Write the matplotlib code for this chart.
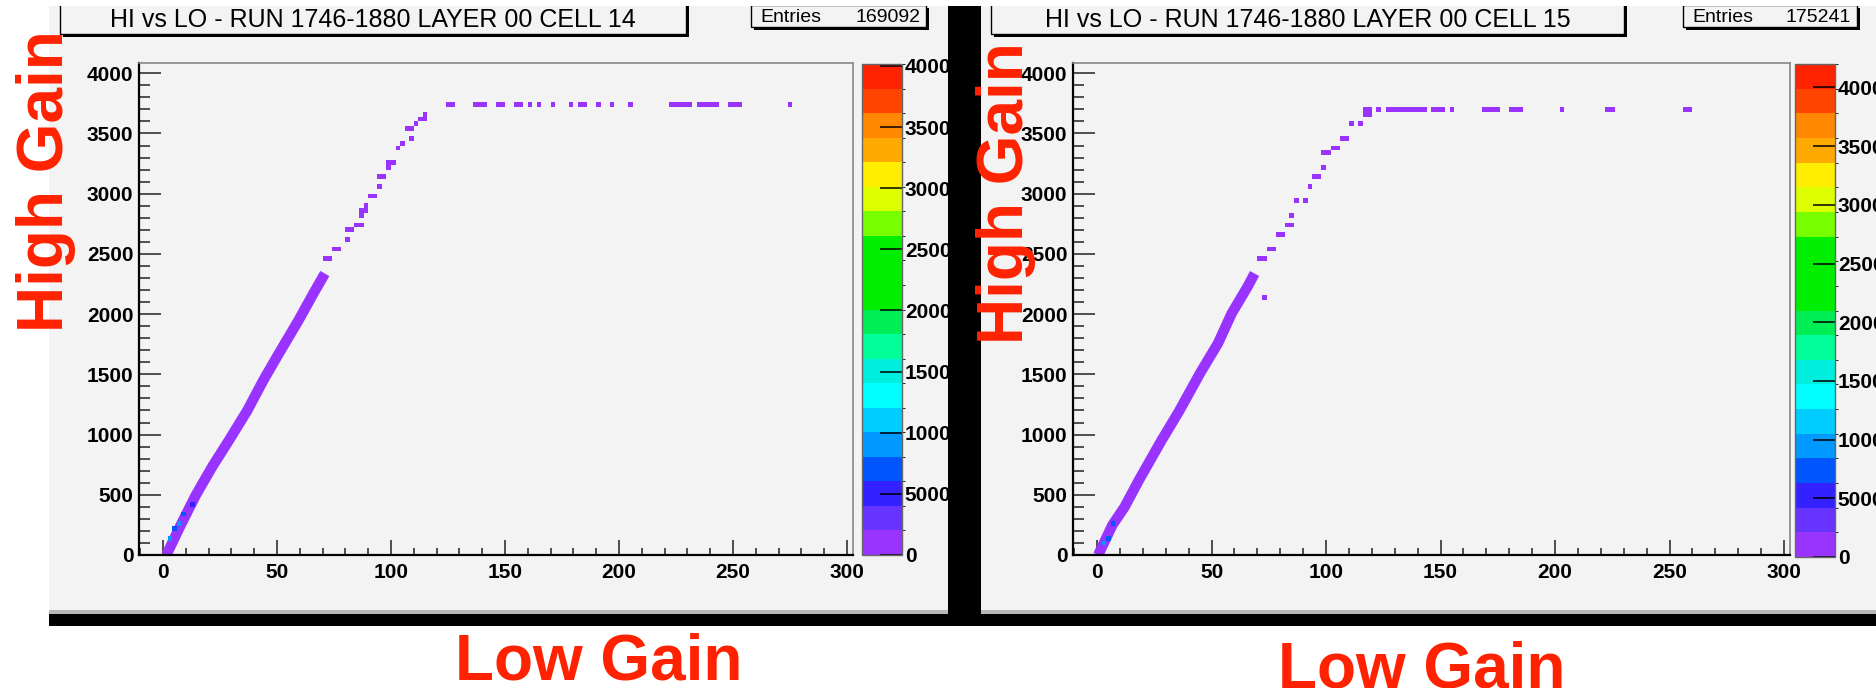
import matplotlib
matplotlib.use('Agg')
import matplotlib.pyplot as plt
import numpy as np
from matplotlib.colors import ListedColormap, BoundaryNorm
from matplotlib.patches import Rectangle
from matplotlib.ticker import MultipleLocator
import matplotlib.cm as cm

plt.rcParams['font.family'] = ['Liberation Sans', 'DejaVu Sans']
plt.rcParams['font.weight'] = 'bold'

W, H = 1876, 688

# ---------------- data ----------------
titles = ['HI vs LO - RUN 1746-1880 LAYER 00 CELL 14',
          'HI vs LO - RUN 1746-1880 LAYER 00 CELL 15']
entries = [169092, 175241]
zmax = [40160, 42000]
z_ticks = [0, 5000, 10000, 15000, 20000, 25000, 30000, 35000, 40000]

# cell 14 : dense part of the band (low gain, high gain)
band14_lo = [1.5, 7.8, 14.5, 21.6, 29, 37, 44, 50, 59.5, 66, 71]
band14_hi = [0, 249, 500, 733, 954, 1200, 1450, 1646, 1950, 2172, 2337]
# cell 14 : sparse cells above the dense band
cells14_lo = [71, 73, 75, 77, 80, 80, 82, 84, 86, 86, 87, 89, 88, 91, 93, 94, 95, 97,
              98, 99, 101, 103, 104, 109, 106, 108, 111, 113, 115, 114]
cells14_hi = [2448, 2448, 2559, 2559, 2628, 2697, 2697, 2752, 2752, 2808, 2863, 2863,
              2918, 2987, 2987, 3070, 3125, 3125, 3208, 3250, 3277, 3360, 3402, 3443,
              3520, 3520, 3595, 3637, 3637, 3660]
# cell 14 : saturation plateau
plateau14 = 3750
flat14_lo = [124, 126, 136, 138, 140, 146, 148, 154, 156, 160, 164, 170, 178, 182, 184,
             190, 196, 204, 222, 224, 226, 228, 230, 234, 236, 238, 240, 242, 248, 250,
             252, 274]
# cell 14 : higher-count cells near the origin
hot14_lo = [2.5, 5, 7.5, 9, 12]
hot14_hi = [150, 200, 260, 320, 415]
hot14_n = [9000, 7000, 9000, 7000, 5000]

# cell 15
band15_lo = [0.5, 6.7, 12, 18.3, 27.8, 36, 45, 52.8, 58.8, 65.7, 68.8]
band15_hi = [0, 249, 398, 622, 940, 1200, 1510, 1757, 2006, 2227, 2337]
cells15_lo = [72, 71, 73, 74, 76, 78, 80, 82, 84, 84, 86, 90, 92, 94, 96, 98, 99, 101,
              102, 104, 106, 108, 110, 114, 116, 118]
cells15_hi = [2154, 2448, 2448, 2531, 2531, 2642, 2642, 2752, 2752, 2822, 2924, 2946,
              3057, 3153, 3153, 3236, 3333, 3333, 3388, 3388, 3471, 3471, 3568, 3595,
              3665, 3665]
plateau15 = 3690
flat15_lo = [116, 118, 122, 126, 128, 130, 132, 134, 136, 138, 140, 142, 146, 148, 150,
             154, 168, 170, 172, 174, 180, 182, 184, 202, 222, 224, 256, 258]
hot15_lo = [3, 5, 7]
hot15_hi = [110, 130, 250]
hot15_n = [10000, 8000, 7000]

# ROOT rainbow palette, bottom to top
palette = ['#9933ff', '#6633ff', '#3322ff', '#0055ff', '#0099ff', '#00ccff', '#00ffff',
           '#00eedd', '#00ff99', '#00ee55', '#00ee00', '#00ee00', '#00ee00', '#77ff00',
           '#ddff00', '#ffee00', '#ffaa00', '#ff8800', '#ff4400', '#ff2200']
cmap = ListedColormap(palette)
bg = '#f3f3f3'
red = '#ff2200'


def fbox(x0, y0, x1, y1):
    return [x0 / W, 1 - y1 / H, (x1 - x0) / W, (y1 - y0) / H]


def rect(fig, x0, y0, x1, y1, **kw):
    b = fbox(x0, y0, x1, y1)
    r = Rectangle((b[0], b[1]), b[2], b[3], transform=fig.transFigure, **kw)
    fig.add_artist(r)
    return r


fig = plt.figure(figsize=(W / 100, H / 100), dpi=100)
fig.patch.set_facecolor('white')

# canvas panels
rect(fig, 49, 6, 948, 614, facecolor=bg, edgecolor='none', zorder=-10)
rect(fig, 981, 6, 1876, 614, facecolor=bg, edgecolor='none', zorder=-10)
rect(fig, 49, 610, 948, 614, facecolor='#b8b8b8', edgecolor='none', zorder=-9)
rect(fig, 981, 610, 1876, 614, facecolor='#b8b8b8', edgecolor='none', zorder=-9)
rect(fig, 948, 6, 981, 626, facecolor='black', edgecolor='none', zorder=10)
rect(fig, 49, 614, 1876, 626, facecolor='black', edgecolor='none', zorder=10)


def draw_panel(ax, cax, band_lo, band_hi, cells_lo, cells_hi, flat_lo, plateau,
               hot_lo, hot_hi, hot_n, vmax):
    norm = BoundaryNorm(np.linspace(0, vmax, 21), 20)
    ax.set_facecolor(bg)
    ax.plot(band_lo, band_hi, color=palette[0], lw=7.5, solid_capstyle='butt',
            solid_joinstyle='round', zorder=2)
    xe = np.arange(-10, 304, 2)
    ye = np.arange(0, 4121, 40)
    lo = np.concatenate([cells_lo, flat_lo])
    hi = np.concatenate([cells_hi, np.full(len(flat_lo), plateau)])
    h, _, _ = np.histogram2d(lo, hi, bins=[xe, ye])
    h2, _, _ = np.histogram2d(hot_lo, hot_hi, bins=[xe, ye], weights=hot_n)
    h = np.ma.masked_equal(h + h2, 0)
    ax.pcolormesh(xe, ye, h.T, cmap=cmap, norm=norm, zorder=3, edgecolors='none')

    ax.set_xlim(-10.5, 302.6)
    ax.set_ylim(0, 4085)
    ax.xaxis.set_major_locator(MultipleLocator(50))
    ax.xaxis.set_minor_locator(MultipleLocator(10))
    ax.yaxis.set_major_locator(MultipleLocator(500))
    ax.yaxis.set_minor_locator(MultipleLocator(100))
    ax.tick_params(which='both', direction='in', top=False, right=False,
                   color='#222222', width=1.1, labelsize=15)
    ax.tick_params(axis='x', which='major', length=10.8, pad=6)
    ax.tick_params(axis='x', which='minor', length=5)
    ax.tick_params(axis='y', which='major', length=15.8, pad=4)
    ax.tick_params(axis='y', which='minor', length=7.9)
    for s in ['left', 'bottom']:
        ax.spines[s].set_color('black')
        ax.spines[s].set_linewidth(1.6)
    for s in ['top', 'right']:
        ax.spines[s].set_color('#888888')
        ax.spines[s].set_linewidth(1.2)

    cb = fig.colorbar(cm.ScalarMappable(norm=norm, cmap=cmap), cax=cax, ticks=z_ticks)
    cb.set_ticklabels([str(t) for t in z_ticks])
    cb.ax.tick_params(direction='in', length=15.8, width=1.1, color='black',
                      labelsize=15, pad=2)
    cb.outline.set_edgecolor('#666666')
    cb.outline.set_linewidth(1)


ax1 = fig.add_axes(fbox(139, 63, 853, 555))
cax1 = fig.add_axes(fbox(862, 64, 902, 555))
draw_panel(ax1, cax1, band14_lo, band14_hi, cells14_lo, cells14_hi, flat14_lo,
           plateau14, hot14_lo, hot14_hi, hot14_n, zmax[0])

ax2 = fig.add_axes(fbox(1073, 63, 1790, 555))
cax2 = fig.add_axes(fbox(1795, 64, 1835, 557))
draw_panel(ax2, cax2, band15_lo, band15_hi, cells15_lo, cells15_hi, flat15_lo,
           plateau15, hot15_lo, hot15_hi, hot15_n, zmax[1])

# title and statistics boxes (ROOT style with shadow)
boxes = [((60, 2, 686, 34), (751, 5, 926, 27)),
         ((991, 2, 1624, 34), (1683, 5, 1857, 27))]
for (tb, eb), title, n in zip(boxes, titles, entries):
    for (x0, y0, x1, y1) in (tb, eb):
        rect(fig, x0 + 3, y0 + 3, x1 + 3, y1 + 3, facecolor='black',
             edgecolor='none', zorder=5)
        rect(fig, x0, y0, x1, y1, facecolor=bg, edgecolor='black', lw=1, zorder=6)
    fig.text((tb[0] + tb[2]) / 2 / W, 1 - 20 / H, title, ha='center', va='center',
             fontsize=18, fontweight='normal', zorder=7)
    fig.text((eb[0] + 9) / W, 1 - 17 / H, 'Entries', ha='left', va='center',
             fontsize=14, fontweight='normal', zorder=7)
    fig.text((eb[2] - 6) / W, 1 - 17 / H, str(n), ha='right', va='center',
             fontsize=14, fontweight='normal', zorder=7)

# white strip at the very top cuts the boxes
rect(fig, 0, 0, W, 6, facecolor='white', edgecolor='none', zorder=15)

# big red axis annotations
fig.text(46 / W, 1 - 181 / H, 'High Gain', rotation=90, ha='center', va='center',
         color=red, fontsize=46, fontweight='bold', zorder=20)
fig.text(1006 / W, 1 - 193 / H, 'High Gain', rotation=90, ha='center', va='center',
         color=red, fontsize=46, fontweight='bold', zorder=20)
fig.text(599 / W, 1 - 680 / H, 'Low Gain', ha='center', va='baseline',
         color=red, fontsize=46, fontweight='bold', zorder=20)
fig.text(1422 / W, 1 - 687 / H, 'Low Gain', ha='center', va='baseline',
         color=red, fontsize=46, fontweight='bold', zorder=20)

fig.savefig('out.png', dpi=100, facecolor='white')
